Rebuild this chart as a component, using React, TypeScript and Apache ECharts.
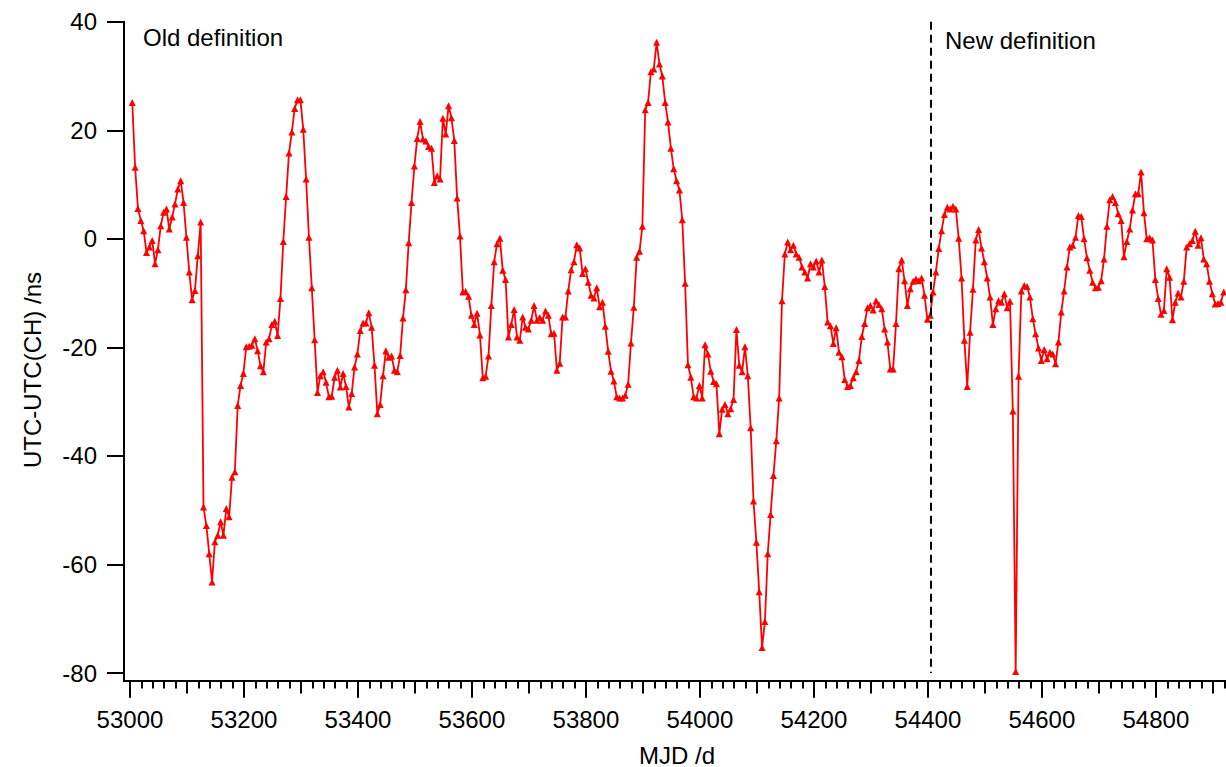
import React, { useEffect, useRef } from "react";
import * as echarts from "echarts";

// UTC - UTC(CH) in ns, sampled every 5 days starting MJD 53004
const START_MJD = 53004;
const STEP_DAYS = 5;
const utcDiff = [
  25.1, 13.2, 5.6, 3.4, 1.5, -2.5, -1.5, -0.3, -4.6, -2.0,
  2.4, 4.9, 5.5, 1.8, 4.0, 6.4, 9.2, 10.7, 6.7, 0.3,
  -6.1, -11.2, -9.5, -3.1, 3.1, -49.4, -52.8, -58.0, -63.2, -55.8,
  -54.6, -52.1, -54.6, -49.7, -51.2, -43.9, -42.9, -30.7, -27.0, -24.8,
  -19.9, -19.8, -19.6, -18.4, -20.6, -23.4, -24.5, -19.0, -18.4, -15.8,
  -15.2, -17.8, -11.0, -0.5, 7.8, 15.8, 19.7, 24.0, 25.6, 25.6,
  20.2, 11.0, 0.3, -9.0, -18.6, -28.3, -25.2, -24.5, -26.4, -29.1,
  -29.0, -25.5, -24.2, -27.3, -24.8, -27.2, -31.0, -28.5, -23.6, -21.2,
  -16.9, -15.5, -15.5, -13.6, -16.3, -23.3, -32.2, -30.5, -25.2, -20.6,
  -21.8, -21.6, -24.2, -24.5, -21.5, -14.6, -9.4, -0.7, 6.7, 13.4,
  18.5, 21.6, 18.4, 18.0, 17.0, 16.7, 10.4, 11.6, 11.0, 22.2,
  19.3, 24.5, 22.3, 18.1, 7.5, 0.5, -9.8, -9.7, -10.6, -14.1,
  -15.8, -13.7, -17.7, -25.6, -25.3, -21.6, -12.3, -4.2, -0.9, 0.1,
  -5.8, -7.5, -18.1, -15.8, -13.0, -18.1, -18.7, -14.4, -16.3, -16.6,
  -15.0, -12.3, -15.0, -14.5, -15.0, -13.3, -14.1, -17.5, -17.4, -24.2,
  -22.9, -14.4, -14.4, -9.6, -5.7, -4.2, -1.1, -1.7, -6.4, -5.5,
  -8.0, -10.4, -10.9, -9.0, -12.5, -11.7, -16.1, -20.7, -24.4, -26.2,
  -29.1, -29.3, -29.3, -28.8, -26.8, -19.2, -12.6, -3.4, -2.3, 2.3,
  23.8, 25.1, 30.8, 31.3, 36.2, 32.2, 30.0, 25.1, 21.5, 16.7,
  12.9, 10.7, 9.0, 3.5, -8.2, -23.2, -25.5, -29.1, -29.3, -27.0,
  -29.3, -19.5, -21.2, -24.4, -26.3, -26.7, -35.9, -31.4, -30.5, -32.2,
  -31.3, -29.6, -16.7, -23.3, -24.5, -19.9, -25.2, -34.8, -48.3, -55.9,
  -65.0, -75.3, -70.5, -58.0, -50.8, -43.6, -37.2, -29.3, -11.4, -2.8,
  -0.6, -2.0, -1.2, -2.8, -3.4, -5.2, -6.1, -7.2, -4.6, -5.2,
  -4.1, -6.1, -3.9, -8.8, -15.3, -16.0, -19.3, -16.4, -20.9, -21.7,
  -25.9, -27.2, -27.0, -25.6, -24.5, -22.4, -18.0, -15.6, -12.7, -12.3,
  -13.1, -11.4, -12.1, -12.9, -16.6, -19.0, -24.0, -24.0, -15.6, -5.5,
  -3.9, -7.7, -12.3, -9.2, -7.8, -7.4, -7.7, -7.2, -10.4, -14.8,
  -14.1, -9.8, -6.1, -1.8, 1.5, 4.5, 5.8, 5.5, 6.0, 5.5,
  0.1, -7.2, -18.7, -27.2, -17.2, -9.3, -0.2, 1.7, -1.7, -4.2,
  -7.2, -10.7, -15.8, -12.9, -11.4, -11.7, -10.1, -12.7, -11.5, -31.7,
  -79.7, -25.3, -9.6, -8.6, -8.8, -10.7, -14.7, -17.5, -20.1, -22.4,
  -20.4, -22.1, -20.9, -21.2, -23.0, -19.0, -13.5, -9.6, -5.2, -1.5,
  -1.2, 0.3, 4.3, 4.1, 0.0, -3.5, -5.8, -8.0, -9.0, -8.9,
  -7.7, -3.7, 2.3, 7.2, 7.8, 6.7, 4.6, 3.4, -3.3, -0.5,
  1.8, 5.3, 8.3, 8.3, 12.3, 4.8, 0.0, 0.2, -0.2, -7.5,
  -11.0, -13.9, -13.2, -5.5, -7.1, -14.9, -11.7, -10.0, -10.7, -7.8,
  -1.5, -0.9, -0.3, 1.4, -1.2, 0.2, -3.7, -4.6, -7.8, -10.1,
  -12.0, -11.9, -11.7, -9.8,
];
const mjd = utcDiff.map((_, i) => START_MJD + STEP_DAYS * i);

const X_MIN = 52989.5;
const X_MAX = 54923;
const Y_MIN = -81.4;
const Y_MAX = 40;
const yTicks = [-80, -60, -40, -20, 0, 20, 40];
const xMajorTicks = [53000, 53200, 53400, 53600, 53800, 54000, 54200, 54400, 54600, 54800];
const xMediumTicks = [53100, 53300, 53500, 53700, 53900, 54100, 54300, 54500, 54700, 54900];
const xMinorTicks: number[] = [];
for (let v = 53000; v <= 54920; v += 20) xMinorTicks.push(v);

const DEF_CHANGE_MJD = 54405;
const oldLabel = "Old definition";
const newLabel = "New definition";
const xTitle = "MJD /d";
const yTitle = "UTC-UTC(CH) /ns";

const FONT = "'Liberation Sans', Arial, sans-serif";

export default function App() {
  const ref = useRef<HTMLDivElement>(null);
  useEffect(() => {
    if (!ref.current) return;
    const chart = echarts.init(ref.current, undefined, { renderer: "svg" });
    const axisLine = { show: true, onZero: false, lineStyle: { color: "#000", width: 2 } };
    const baseX = {
      type: "value",
      min: X_MIN,
      max: X_MAX,
      position: "bottom",
      gridIndex: 0,
      splitLine: { show: false },
      axisLine,
    };
    chart.setOption({
      animation: false,
      backgroundColor: "#fff",
      textStyle: { fontFamily: FONT },
      grid: { left: 124, right: 0, top: 21.7, bottom: 86.3, containLabel: false },
      xAxis: [
        {
          ...baseX,
          axisTick: {
            show: true,
            inside: false,
            length: 17,
            lineStyle: { color: "#000", width: 2 },
            customValues: xMajorTicks,
          },
          axisLabel: {
            show: true,
            color: "#000",
            fontSize: 24,
            fontFamily: FONT,
            margin: 27,
            customValues: xMajorTicks,
            formatter: (v: number) => String(v),
          },
        },
        {
          ...baseX,
          axisTick: {
            show: true,
            length: 12.7,
            lineStyle: { color: "#000", width: 2 },
            customValues: xMediumTicks,
          },
          axisLabel: { show: false },
        },
        {
          ...baseX,
          axisTick: {
            show: true,
            length: 7.7,
            lineStyle: { color: "#000", width: 2 },
            customValues: xMinorTicks,
          },
          axisLabel: { show: false },
        },
      ],
      yAxis: {
        type: "value",
        min: Y_MIN,
        max: Y_MAX,
        splitLine: { show: false },
        axisLine,
        axisTick: {
          show: true,
          length: 17,
          lineStyle: { color: "#000", width: 2 },
          customValues: yTicks,
        },
        axisLabel: {
          color: "#000",
          fontSize: 24,
          fontFamily: FONT,
          margin: 27,
          customValues: yTicks,
          formatter: (v: number) => String(v),
        },
      },
      series: [
        {
          type: "line",
          xAxisIndex: 0,
          yAxisIndex: 0,
          data: mjd.map((x, i) => [x, utcDiff[i]]),
          symbol: "triangle",
          symbolSize: 7,
          showSymbol: true,
          itemStyle: { color: "#ff0000" },
          lineStyle: { color: "#ff0000", width: 1.8 },
          markLine: {
            silent: true,
            symbol: ["none", "none"],
            label: { show: false },
            lineStyle: { color: "#000", width: 2, type: [8, 5] },
            data: [[{ coord: [DEF_CHANGE_MJD, Y_MAX] }, { coord: [DEF_CHANGE_MJD, -80] }]],
          },
        },
      ],
      graphic: [
        {
          type: "text",
          x: 143,
          y: 37,
          style: { text: oldLabel, fill: "#000", font: `24px ${FONT}`, textVerticalAlign: "middle" },
        },
        {
          type: "text",
          x: 945,
          y: 40,
          style: { text: newLabel, fill: "#000", font: `24px ${FONT}`, textVerticalAlign: "middle" },
        },
        {
          type: "text",
          x: 677,
          y: 755,
          style: { text: xTitle, fill: "#000", font: `24px ${FONT}`, textAlign: "center", textVerticalAlign: "middle" },
        },
        {
          type: "text",
          x: 32,
          y: 370,
          rotation: Math.PI / 2,
          style: { text: yTitle, fill: "#000", font: `24px ${FONT}`, textAlign: "center", textVerticalAlign: "middle" },
        },
      ],
    });
    return () => chart.dispose();
  }, []);
  return (
    <div
      ref={ref}
      style={{ position: "fixed", left: 0, top: 0, width: 1226, height: 767, background: "#fff" }}
    />
  );
}
